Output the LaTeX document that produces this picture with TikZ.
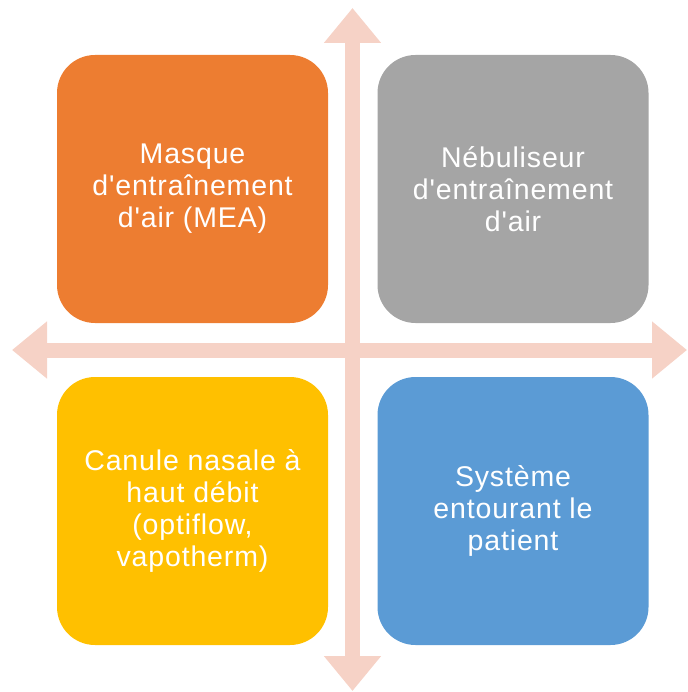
\documentclass[tikz,border=0pt]{standalone}
\usepackage{fontspec}
\setmainfont[Ligatures={NoCommon,TeXOff},LetterSpace=3]{Liberation Sans}
\usetikzlibrary{arrows.meta}
\definecolor{cOrange}{HTML}{ED7D31}
\definecolor{cGray}{HTML}{A5A5A5}
\definecolor{cYellow}{HTML}{FFC000}
\definecolor{cBlue}{HTML}{5B9BD5}
\definecolor{cArrow}{HTML}{F6D2C6}
\begin{document}
\begin{tikzpicture}[x=1pt,y=-1pt,
  quad/.style={rounded corners=38pt, minimum width=271pt, minimum height=268pt,
    inner sep=0pt, text=white, align=center,
    font=\fontsize{28.5}{32}\selectfont},
  axis/.style={draw=cArrow, line width=15pt,
    {Triangle[width=55pt,length=35pt]}-{Triangle[width=55pt,length=35pt]}}]
\useasboundingbox (0,0) rectangle (687,692);
\coordinate (top) at (352.5,8);
\coordinate (bottom) at (352.5,691);
\coordinate (left) at (12,350);
\coordinate (right) at (687,350);
\draw[axis] (top) -- (bottom);
\draw[axis] (left) -- (right);
\node[quad, fill=cOrange] (mea) at (192.5,189) {Masque\\d'entraînement\\d'air (MEA)};
\node[quad, fill=cGray] (neb) at (513,189) {Nébuliseur\\d'entraînement\\d'air};
\node[quad, fill=cYellow] (cnhd) at (192.5,511) {Canule nasale à\\haut débit\\(optiflow,\\vapotherm)};
\node[quad, fill=cBlue] (sys) at (513,511) {Système\\entourant le\\patient};
\end{tikzpicture}
\end{document}
